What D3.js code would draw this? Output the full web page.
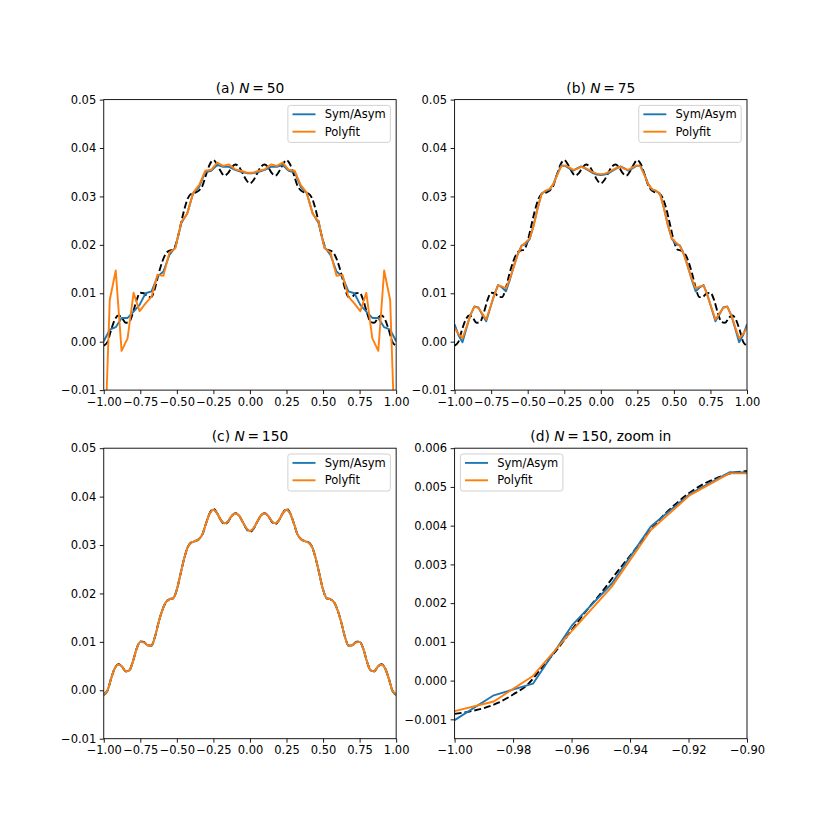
<!DOCTYPE html>
<html>
<head>
<meta charset="utf-8">
<script src="https://cdn.jsdelivr.net/npm/d3@7"></script>
<style>
  body { margin: 0; background: #fff; }
  svg { display: block; }
  text { font-family: "DejaVu Sans", sans-serif; fill: #000; }
</style>
</head>
<body>
<div id="chart"></div>
<script>
// ---- data ----

// exact curve (dashed), sampled every 0.025
const xTrue = [-1, -0.975, -0.95, -0.925, -0.9, -0.875, -0.85, -0.825, -0.8, -0.775,
  -0.75, -0.725, -0.7, -0.675, -0.65, -0.625, -0.6, -0.575, -0.55, -0.525,
  -0.5, -0.475, -0.45, -0.425, -0.4, -0.375, -0.35, -0.325, -0.3, -0.275,
  -0.25, -0.225, -0.2, -0.175, -0.15, -0.125, -0.1, -0.075, -0.05, -0.025,
  0,
  0.025, 0.05, 0.075, 0.1, 0.125, 0.15, 0.175, 0.2, 0.225, 0.25,
  0.275, 0.3, 0.325, 0.35, 0.375, 0.4, 0.425, 0.45, 0.475, 0.5,
  0.525, 0.55, 0.575, 0.6, 0.625, 0.65, 0.675, 0.7, 0.725, 0.75,
  0.775, 0.8, 0.825, 0.85, 0.875, 0.9, 0.925, 0.95, 0.975, 1];
const yTrue = [-0.0008, -0.0001, 0.0024, 0.0045, 0.0054, 0.0049, 0.0039, 0.0041, 0.0060, 0.0086,
  0.0101, 0.0100, 0.0093, 0.0092, 0.0110, 0.0140, 0.0165, 0.0182, 0.0188, 0.0190,
  0.0208, 0.0240, 0.0272, 0.0296, 0.0306, 0.0308, 0.0312, 0.0322, 0.0345, 0.0366,
  0.0375, 0.0366, 0.0352, 0.0343, 0.0348, 0.0360, 0.0366, 0.0361, 0.0348, 0.0334,
  0.0327,
  0.0334, 0.0348, 0.0361, 0.0366, 0.0360, 0.0348, 0.0343, 0.0352, 0.0366, 0.0375,
  0.0366, 0.0345, 0.0322, 0.0312, 0.0308, 0.0306, 0.0296, 0.0272, 0.0240, 0.0208,
  0.0190, 0.0188, 0.0182, 0.0165, 0.0140, 0.0110, 0.0092, 0.0093, 0.0100, 0.0101,
  0.0086, 0.0060, 0.0041, 0.0039, 0.0049, 0.0054, 0.0045, 0.0024, -0.0001, -0.0008];

// N = 50
const xN50 = [-1.000, -0.959, -0.918, -0.878, -0.837, -0.796, -0.755, -0.714, -0.673, -0.633,
  -0.592, -0.551, -0.510, -0.469, -0.429, -0.388, -0.347, -0.306, -0.265, -0.224,
  -0.184, -0.143, -0.102, -0.061, -0.020, 0.020, 0.061, 0.102, 0.143, 0.184,
  0.224, 0.265, 0.306, 0.347, 0.388, 0.429, 0.469, 0.510, 0.551, 0.592,
  0.633, 0.673, 0.714, 0.755, 0.796, 0.837, 0.878, 0.918, 0.959, 1.000];
const symN50 = [0.0001, 0.0025, 0.0030, 0.0049, 0.0049, 0.0062, 0.0076, 0.0100, 0.0104, 0.0134,
  0.0145, 0.0179, 0.0195, 0.0245, 0.0265, 0.0307, 0.0320, 0.0350, 0.0353, 0.0365,
  0.0361, 0.0361, 0.0355, 0.0351, 0.0348, 0.0348, 0.0351, 0.0355, 0.0361, 0.0361,
  0.0365, 0.0353, 0.0350, 0.0320, 0.0307, 0.0265, 0.0245, 0.0195, 0.0179, 0.0145,
  0.0134, 0.0104, 0.0100, 0.0076, 0.0062, 0.0049, 0.0049, 0.0030, 0.0025, 0.0001];
const polyN50 = [-0.0280, 0.0086, 0.0147, -0.0019, 0.0007, 0.0101, 0.0063, 0.0079, 0.0093, 0.0138,
  0.0136, 0.0184, 0.0193, 0.0248, 0.0264, 0.0308, 0.0324, 0.0353, 0.0355, 0.0370,
  0.0363, 0.0366, 0.0356, 0.0353, 0.0349, 0.0349, 0.0353, 0.0356, 0.0366, 0.0363,
  0.0370, 0.0355, 0.0353, 0.0324, 0.0308, 0.0264, 0.0248, 0.0193, 0.0184, 0.0136,
  0.0138, 0.0093, 0.0079, 0.0063, 0.0101, 0.0007, -0.0019, 0.0147, 0.0086, -0.0280];

// N = 75
const xN75 = [-1.000, -0.973, -0.946, -0.919, -0.892, -0.865, -0.838, -0.811, -0.784, -0.757,
  -0.730, -0.703, -0.676, -0.649, -0.622, -0.595, -0.568, -0.541, -0.514, -0.486,
  -0.459, -0.432, -0.405, -0.378, -0.351, -0.324, -0.297, -0.270, -0.243, -0.216,
  -0.189, -0.162, -0.135, -0.108, -0.081, -0.054, -0.027, 0.000,
  0.027, 0.054, 0.081, 0.108, 0.135, 0.162, 0.189, 0.216, 0.243, 0.270,
  0.297, 0.324, 0.351, 0.378, 0.405, 0.432, 0.459, 0.486, 0.514, 0.541,
  0.568, 0.595, 0.622, 0.649, 0.676, 0.703, 0.730, 0.757, 0.784, 0.811,
  0.838, 0.865, 0.892, 0.919, 0.946, 0.973, 1.000];
const symN75 = [0.0036, 0.0013, -0.0001, 0.0028, 0.0055, 0.0073, 0.0071, 0.0056, 0.0042, 0.0069,
  0.0096, 0.0117, 0.0112, 0.0104, 0.0128, 0.0156, 0.0181, 0.0199, 0.0201, 0.0212,
  0.0241, 0.0276, 0.0306, 0.0311, 0.0314, 0.0326, 0.0347, 0.0364, 0.0363, 0.0358,
  0.0353, 0.0358, 0.0362, 0.0358, 0.0353, 0.0348, 0.0345, 0.0344,
  0.0345, 0.0348, 0.0353, 0.0358, 0.0362, 0.0358, 0.0353, 0.0358, 0.0363, 0.0364,
  0.0347, 0.0326, 0.0314, 0.0311, 0.0306, 0.0276, 0.0241, 0.0212, 0.0201, 0.0199,
  0.0181, 0.0156, 0.0128, 0.0104, 0.0112, 0.0117, 0.0096, 0.0069, 0.0042, 0.0056,
  0.0071, 0.0073, 0.0055, 0.0028, -0.0001, 0.0013, 0.0036];
const polyN75 = [0.0028, 0.0016, 0.0007, 0.0030, 0.0055, 0.0072, 0.0070, 0.0058, 0.0046, 0.0070,
  0.0095, 0.0116, 0.0114, 0.0110, 0.0130, 0.0155, 0.0180, 0.0198, 0.0205, 0.0213,
  0.0240, 0.0275, 0.0305, 0.0312, 0.0315, 0.0325, 0.0345, 0.0362, 0.0364, 0.0360,
  0.0355, 0.0357, 0.0361, 0.0359, 0.0355, 0.0350, 0.0347, 0.0346,
  0.0347, 0.0350, 0.0355, 0.0359, 0.0361, 0.0357, 0.0355, 0.0360, 0.0364, 0.0362,
  0.0345, 0.0325, 0.0315, 0.0312, 0.0305, 0.0275, 0.0240, 0.0213, 0.0205, 0.0198,
  0.0180, 0.0155, 0.0130, 0.0110, 0.0114, 0.0116, 0.0095, 0.0070, 0.0046, 0.0058,
  0.0070, 0.0072, 0.0055, 0.0030, 0.0007, 0.0016, 0.0028];

// N = 150 (sampled on the xTrue grid)
const symN150 = [-0.0010, -0.0001, 0.0024, 0.0045, 0.0053, 0.0049, 0.0039, 0.0041, 0.0060, 0.0086,
  0.0100, 0.0099, 0.0093, 0.0092, 0.0110, 0.0140, 0.0165, 0.0182, 0.0188, 0.0190,
  0.0208, 0.0240, 0.0272, 0.0296, 0.0305, 0.0308, 0.0312, 0.0322, 0.0345, 0.0365,
  0.0373, 0.0366, 0.0352, 0.0345, 0.0349, 0.0360, 0.0365, 0.0361, 0.0348, 0.0335,
  0.0329,
  0.0335, 0.0348, 0.0361, 0.0365, 0.0360, 0.0349, 0.0345, 0.0352, 0.0366, 0.0373,
  0.0365, 0.0345, 0.0322, 0.0312, 0.0308, 0.0305, 0.0296, 0.0272, 0.0240, 0.0208,
  0.0190, 0.0188, 0.0182, 0.0165, 0.0140, 0.0110, 0.0092, 0.0093, 0.0099, 0.0100,
  0.0086, 0.0060, 0.0041, 0.0039, 0.0049, 0.0053, 0.0045, 0.0024, -0.0001, -0.0010];
const polyN150 = [-0.0008, -0.0001, 0.0024, 0.0045, 0.0053, 0.0049, 0.0039, 0.0041, 0.0060, 0.0086,
  0.0100, 0.0099, 0.0093, 0.0092, 0.0110, 0.0140, 0.0165, 0.0182, 0.0188, 0.0190,
  0.0208, 0.0240, 0.0272, 0.0296, 0.0305, 0.0308, 0.0312, 0.0322, 0.0345, 0.0365,
  0.0373, 0.0366, 0.0352, 0.0345, 0.0349, 0.0360, 0.0365, 0.0361, 0.0348, 0.0335,
  0.0329,
  0.0335, 0.0348, 0.0361, 0.0365, 0.0360, 0.0349, 0.0345, 0.0352, 0.0366, 0.0373,
  0.0365, 0.0345, 0.0322, 0.0312, 0.0308, 0.0305, 0.0296, 0.0272, 0.0240, 0.0208,
  0.0190, 0.0188, 0.0182, 0.0165, 0.0140, 0.0110, 0.0092, 0.0093, 0.0099, 0.0100,
  0.0086, 0.0060, 0.0041, 0.0039, 0.0049, 0.0053, 0.0045, 0.0024, -0.0001, -0.0008];

// N = 150, zoom on [-1, -0.9]
const xTrueZoom = [-1.000, -0.995, -0.990, -0.985, -0.980, -0.975, -0.970, -0.965, -0.960, -0.955,
  -0.950, -0.945, -0.940, -0.935, -0.930, -0.925, -0.920, -0.915, -0.910, -0.905, -0.900];
const yTrueZoom = [-0.00086, -0.00080, -0.00071, -0.00057, -0.00036, -0.00010, 0.00035, 0.00080, 0.00130, 0.00180,
  0.00225, 0.00275, 0.00322, 0.00370, 0.00415, 0.00452, 0.00483, 0.00507, 0.00524, 0.00536, 0.00541];
const xZoom = [-1.0000, -0.9866, -0.9732, -0.9597, -0.9463, -0.9329, -0.9195, -0.9060, -0.8926];
const symZoom = [-0.00102, -0.00038, -0.00008, 0.00144, 0.00250, 0.00398, 0.00482, 0.00538, 0.00536];
const polyZoom = [-0.00079, -0.00054, 0.00012, 0.00130, 0.00242, 0.00389, 0.00479, 0.00535, 0.00535];

// ticks
const xTicksWide = [-1, -0.75, -0.5, -0.25, 0, 0.25, 0.5, 0.75, 1];
const yTicksWide = [-0.01, 0, 0.01, 0.02, 0.03, 0.04, 0.05];
const xTicksZoom = [-1, -0.98, -0.96, -0.94, -0.92, -0.9];
const yTicksZoom = [-0.001, 0, 0.001, 0.002, 0.003, 0.004, 0.005, 0.006];

const legendLabels = ['Sym/Asym', 'Polyfit'];

// ---- drawing ----
const blue = '#1f77b4', orange = '#ff7f0e';
const fs = 11.5;          // tick / legend font px
const lw = 1.9;           // line width px
const axW = 292.4, axH = 290.5;

const svg = d3.select('#chart').append('svg')
  .attr('width', 830).attr('height', 830);

const panels = [
  {id: 'a', pre: '(a) ', post: '\u2009=\u200950', x0: 103.75, y0: 99.6,
   xDom: [-1, 1], yDom: [-0.01, 0.05], xTicks: xTicksWide, yTicks: yTicksWide,
   xFmt: '.2f', yFmt: '.2f', legend: 'right',
   dash: [xTrue, yTrue, true], sym: [xN50, symN50, false], poly: [xN50, polyN50, false]},
  {id: 'b', pre: '(b) ', post: '\u2009=\u200975', x0: 454.6, y0: 99.6,
   xDom: [-1, 1], yDom: [-0.01, 0.05], xTicks: xTicksWide, yTicks: yTicksWide,
   xFmt: '.2f', yFmt: '.2f', legend: 'right',
   dash: [xTrue, yTrue, true], sym: [xN75, symN75, false], poly: [xN75, polyN75, false]},
  {id: 'c', pre: '(c) ', post: '\u2009=\u2009150', x0: 103.75, y0: 448.2,
   xDom: [-1, 1], yDom: [-0.01, 0.05], xTicks: xTicksWide, yTicks: yTicksWide,
   xFmt: '.2f', yFmt: '.2f', legend: 'right',
   dash: [xTrue, yTrue, true], sym: [xTrue, symN150, true], poly: [xTrue, polyN150, true]},
  {id: 'd', pre: '(d) ', post: '\u2009=\u2009150, zoom in', x0: 454.6, y0: 448.2,
   xDom: [-1, -0.9], yDom: [-0.0015, 0.006], xTicks: xTicksZoom, yTicks: yTicksZoom,
   xFmt: '.2f', yFmt: '.3f', legend: 'left',
   dash: [xTrueZoom, yTrueZoom, true], sym: [xZoom, symZoom, false], poly: [xZoom, polyZoom, false]}
];

panels.forEach(p => {
  const x = d3.scaleLinear().domain(p.xDom).range([0, axW]);
  const y = d3.scaleLinear().domain(p.yDom).range([axH, 0]);
  const g = svg.append('g').attr('transform', `translate(${p.x0},${p.y0})`);

  g.append('clipPath').attr('id', 'clip-' + p.id)
    .append('rect').attr('width', axW).attr('height', axH);
  const plot = g.append('g').attr('clip-path', `url(#clip-${p.id})`);

  function drawLine(s, color, dashed) {
    const pts = s[0].map((v, i) => [v, s[1][i]]);
    const line = d3.line().x(d => x(d[0])).y(d => y(d[1]))
      .curve(s[2] ? d3.curveMonotoneX : d3.curveLinear);
    plot.append('path').datum(pts)
      .attr('fill', 'none').attr('stroke', color).attr('stroke-width', lw)
      .attr('stroke-linejoin', 'round')
      .attr('stroke-dasharray', dashed ? '7,3' : null)
      .attr('d', line);
  }
  drawLine(p.dash, '#000', true);
  drawLine(p.sym, blue, false);
  drawLine(p.poly, orange, false);

  // axes
  const xAxis = g.append('g').attr('transform', `translate(0,${axH})`)
    .call(d3.axisBottom(x).tickValues(p.xTicks).tickFormat(d3.format(p.xFmt))
      .tickSize(4).tickPadding(3.5));
  const yAxis = g.append('g')
    .call(d3.axisLeft(y).tickValues(p.yTicks).tickFormat(d3.format(p.yFmt))
      .tickSize(4).tickPadding(3.5));
  [xAxis, yAxis].forEach(a => {
    a.select('.domain').remove();
    a.selectAll('line').attr('stroke-width', 0.9);
    a.selectAll('text').attr('font-size', fs).attr('font-family', '"DejaVu Sans", sans-serif');
  });
  g.append('rect').attr('width', axW).attr('height', axH)
    .attr('fill', 'none').attr('stroke', '#000').attr('stroke-width', 0.9);

  // title
  const t = g.append('text').attr('x', axW / 2).attr('y', -7)
    .attr('text-anchor', 'middle').attr('font-size', 13.8);
  t.append('tspan').text(p.pre);
  t.append('tspan').attr('font-style', 'italic').text('N');
  t.append('tspan').text(p.post);

  // legend
  const lg = g.append('g');
  const box = lg.append('rect').attr('rx', 2.5).attr('ry', 2.5)
    .attr('fill', 'white').attr('fill-opacity', 0.8)
    .attr('stroke', '#cccccc').attr('stroke-width', 0.9);
  let maxW = 0;
  legendLabels.forEach((lab, i) => {
    const cy = 8.9 + i * 17.4;
    lg.append('line').attr('x1', 4.6).attr('x2', 27.6).attr('y1', cy).attr('y2', cy)
      .attr('stroke', i === 0 ? blue : orange).attr('stroke-width', lw);
    const tx = lg.append('text').attr('x', 36.8).attr('y', cy).attr('dy', '0.36em')
      .attr('font-size', fs).text(lab);
    maxW = Math.max(maxW, tx.node().getComputedTextLength());
  });
  const bw = 36.8 + maxW + 4.6, bh = 37;
  box.attr('width', bw).attr('height', bh);
  const lx = p.legend === 'right' ? axW - 5.8 - bw : 5.8;
  lg.attr('transform', `translate(${lx},5.8)`);
});
</script>
</body>
</html>
